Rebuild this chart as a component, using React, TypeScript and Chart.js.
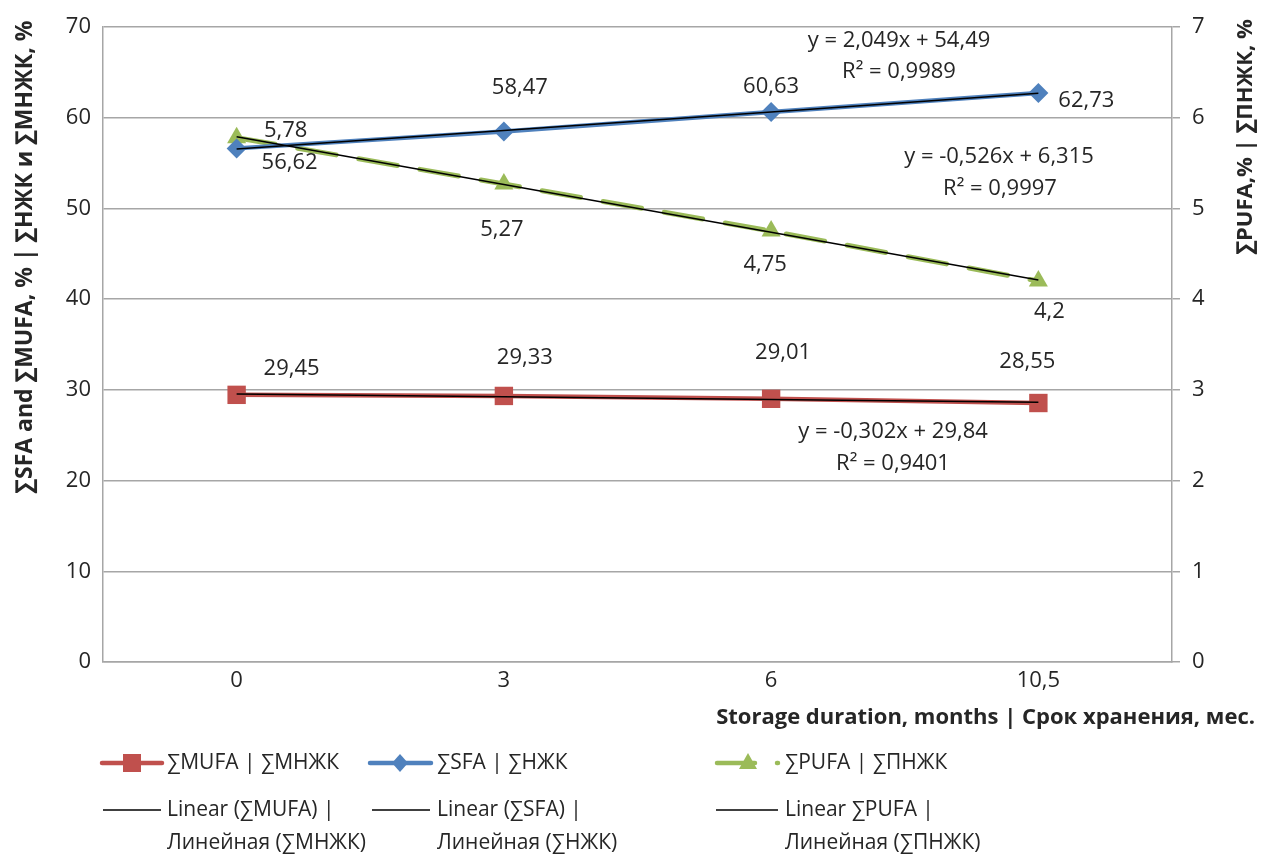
import { useEffect, useRef } from 'react';
import { Chart, registerables } from 'chart.js';

Chart.register(...registerables);

// ---- data ----
const categories = ['0', '3', '6', '10,5'];
const mufaValues = [29.45, 29.33, 29.01, 28.55];
const sfaValues = [56.62, 58.47, 60.63, 62.73];
const pufaValues = [5.78, 5.27, 4.75, 4.2];
const mufaTrend = [29.54, 29.24, 28.93, 28.63];
const sfaTrend = [56.54, 58.59, 60.64, 62.69];
const pufaTrend = [5.789, 5.263, 4.737, 4.211];
const mufaEquation = ['y = -0,302x + 29,84', 'R² = 0,9401'];
const sfaEquation = ['y = 2,049x + 54,49', 'R² = 0,9989'];
const pufaEquation = ['y = -0,526x + 6,315', 'R² = 0,9997'];
const leftTitle = '∑SFA and ∑MUFA, % | ∑НЖК и ∑МНЖК, %';
const rightTitle = '∑PUFA,% | ∑ПНЖК, %';
const xTitle = 'Storage duration, months | Срок хранения, мес.';
const legendSeries = ['∑MUFA | ∑МНЖК', '∑SFA | ∑НЖК', '∑PUFA | ∑ПНЖК'];
const legendTrends = [
  ['Linear (∑MUFA) |', 'Линейная (∑МНЖК)'],
  ['Linear (∑SFA) |', 'Линейная (∑НЖК)'],
  ['Linear ∑PUFA |', 'Линейная (∑ПНЖК)'],
];

// ---- style ----
const FONT = "'Open Sans', sans-serif";
const TEXT = '#262626';
const RED = '#C0504D';
const BLUE = '#4F81BD';
const GREEN = '#9BBB59';
const GRID = '#A6A6A6';

const labelOffsets = [
  [[55, -26], [21, -38], [12, -46], [-11, -41]],
  [[53, 14], [16, -44], [0, -25], [48, 8]],
  [[49, -7], [-2, 46], [-6, 34], [11, 31]],
];
const equationPos = [
  [[893, 432], [893, 464]],
  [[899, 41], [899, 72]],
  [[999, 157], [1000, 189]],
];

const fmt = (v: number) => String(v).replace('.', ',');

function drawLabels(chart: any) {
  const ctx = chart.ctx;
  ctx.save();
  ctx.fillStyle = TEXT;
  ctx.font = `22px ${FONT}`;
  ctx.textAlign = 'center';
  ctx.textBaseline = 'middle';
  const seriesVals = [mufaValues, sfaValues, pufaValues];
  seriesVals.forEach((vals, di) => {
    const meta = chart.getDatasetMeta(di + 3);
    vals.forEach((v, j) => {
      const el = meta.data[j];
      const [dx, dy] = labelOffsets[di][j];
      ctx.fillText(fmt(v), el.x + dx, el.y + dy);
    });
  });
  [mufaEquation, sfaEquation, pufaEquation].forEach((eq, i) => {
    eq.forEach((line, k) => {
      const [x, y] = equationPos[i][k];
      ctx.fillText(line, x, y);
    });
  });
  ctx.restore();
}

function drawFrameText(chart: any) {
  const ctx = chart.ctx;
  ctx.save();
  ctx.fillStyle = TEXT;
  ctx.textBaseline = 'middle';
  ctx.textAlign = 'center';
  // left title
  ctx.font = `bold 23px ${FONT}`;
  ctx.save();
  ctx.translate(25, 257);
  ctx.rotate(-Math.PI / 2);
  ctx.fillText(leftTitle, 0, 0);
  ctx.restore();
  // right title
  ctx.font = `bold 22px ${FONT}`;
  ctx.save();
  ctx.translate(1246, 137);
  ctx.rotate(-Math.PI / 2);
  ctx.fillText(rightTitle, 0, 0);
  ctx.restore();
  // x title
  ctx.font = `bold 22px ${FONT}`;
  ctx.textAlign = 'right';
  ctx.fillText(xTitle, 1255, 718);

  // legend
  ctx.font = `21px ${FONT}`;
  ctx.textAlign = 'left';
  const row1 = 763;
  ctx.lineCap = 'round';
  ctx.lineWidth = 4.5;
  // MUFA
  ctx.strokeStyle = RED;
  ctx.beginPath(); ctx.moveTo(102, row1); ctx.lineTo(162, row1); ctx.stroke();
  ctx.fillStyle = RED;
  ctx.fillRect(132 - 9, row1 - 9, 18, 18);
  // SFA
  ctx.strokeStyle = BLUE;
  ctx.beginPath(); ctx.moveTo(370, row1); ctx.lineTo(431, row1); ctx.stroke();
  ctx.fillStyle = BLUE;
  ctx.beginPath();
  ctx.moveTo(400, row1 - 9); ctx.lineTo(408, row1); ctx.lineTo(400, row1 + 9); ctx.lineTo(392, row1);
  ctx.closePath(); ctx.fill();
  // PUFA
  ctx.strokeStyle = GREEN;
  ctx.setLineDash([38, 22]);
  ctx.beginPath(); ctx.moveTo(717, row1); ctx.lineTo(778, row1); ctx.stroke();
  ctx.setLineDash([]);
  ctx.fillStyle = GREEN;
  ctx.beginPath();
  ctx.moveTo(748, row1 - 10); ctx.lineTo(757, row1 + 6); ctx.lineTo(739, row1 + 6);
  ctx.closePath(); ctx.fill();

  ctx.fillStyle = TEXT;
  ctx.fillText(legendSeries[0], 167, row1);
  ctx.fillText(legendSeries[1], 437, row1);
  ctx.fillText(legendSeries[2], 785, row1);

  const row2 = 810;
  ctx.lineCap = 'butt';
  ctx.lineWidth = 1.5;
  ctx.strokeStyle = '#000';
  const trendX = [[103, 161, 167], [372, 430, 437], [716, 778, 785]];
  trendX.forEach(([a, b, t], i) => {
    ctx.beginPath(); ctx.moveTo(a, row2); ctx.lineTo(b, row2); ctx.stroke();
    ctx.fillText(legendTrends[i][0], t, row2);
    ctx.fillText(legendTrends[i][1], t, row2 + 33);
  });
  ctx.restore();
}

export default function App() {
  const canvasRef = useRef<HTMLCanvasElement | null>(null);

  useEffect(() => {
    const canvas = canvasRef.current;
    if (!canvas) return;
    const tickFont = { family: FONT, size: 22 };
    const trend = (label: string, data: number[], axis: string) => ({
      label,
      data,
      yAxisID: axis,
      borderColor: '#000',
      borderWidth: 1.5,
      pointRadius: 0,
      order: 0,
    });
    const chart = new Chart(canvas, {
      type: 'line',
      data: {
        labels: categories,
        datasets: [
          trend('Linear (∑MUFA) | Линейная (∑МНЖК)', mufaTrend, 'y'),
          trend('Linear (∑SFA) | Линейная (∑НЖК)', sfaTrend, 'y'),
          trend('Linear ∑PUFA | Линейная (∑ПНЖК)', pufaTrend, 'y1'),
          {
            label: legendSeries[0],
            data: mufaValues,
            yAxisID: 'y',
            borderColor: RED,
            backgroundColor: RED,
            borderWidth: 4.5,
            pointStyle: 'rect',
            pointRadius: 13,
            pointBackgroundColor: RED,
            pointBorderColor: RED,
            pointBorderWidth: 0,
            order: 1,
          },
          {
            label: legendSeries[1],
            data: sfaValues,
            yAxisID: 'y',
            borderColor: BLUE,
            backgroundColor: BLUE,
            borderWidth: 4.5,
            pointStyle: 'rectRot',
            pointRadius: 10,
            pointBackgroundColor: BLUE,
            pointBorderColor: BLUE,
            pointBorderWidth: 0,
            order: 1,
          },
          {
            label: legendSeries[2],
            data: pufaValues,
            yAxisID: 'y1',
            borderColor: GREEN,
            backgroundColor: GREEN,
            borderWidth: 5,
            borderDash: [39, 23],
            borderCapStyle: 'round',
            pointStyle: 'triangle',
            pointRadius: 11,
            pointBackgroundColor: GREEN,
            pointBorderColor: GREEN,
            pointBorderWidth: 0,
            order: 1,
          },
        ],
      },
      options: {
        responsive: false,
        animation: false,
        events: [],
        layout: { padding: { top: 27, left: 0, right: 0, bottom: 0 } },
        plugins: {
          legend: { display: false },
          tooltip: { enabled: false },
        },
        scales: {
          x: {
            type: 'category',
            offset: true,
            grid: { display: false, drawTicks: false },
            border: { display: true, color: GRID, width: 1.5 },
            ticks: { font: tickFont, color: TEXT, padding: 6, maxRotation: 0 },
            afterFit: (s: any) => { s.height = 192; },
          },
          y: {
            position: 'left',
            min: 0,
            max: 70,
            ticks: { stepSize: 10, font: tickFont, color: TEXT, padding: 12 },
            grid: { color: GRID, lineWidth: 1.5, drawTicks: false },
            border: { display: true, color: GRID, width: 1.5 },
            afterFit: (s: any) => { s.width = 103; },
          },
          y1: {
            position: 'right',
            min: 0,
            max: 7,
            ticks: { stepSize: 1, font: tickFont, color: TEXT, padding: 12 },
            grid: { drawOnChartArea: false, color: GRID, lineWidth: 1.5, drawTicks: true, tickLength: 8 },
            border: { display: true, color: GRID, width: 1.5 },
            afterFit: (s: any) => { s.width = 89; },
          },
        },
      } as any,
      plugins: [
        {
          id: 'overlay',
          afterDatasetsDraw(c: any) { drawLabels(c); },
          afterDraw(c: any) { drawFrameText(c); },
        },
      ],
    });
    return () => chart.destroy();
  }, []);

  return (
    <div style={{ position: 'absolute', left: 0, top: 0, width: 1261, height: 854, background: '#fff' }}>
      <canvas ref={canvasRef} width={1261} height={854} style={{ display: 'block', width: 1261, height: 854 }} />
    </div>
  );
}
